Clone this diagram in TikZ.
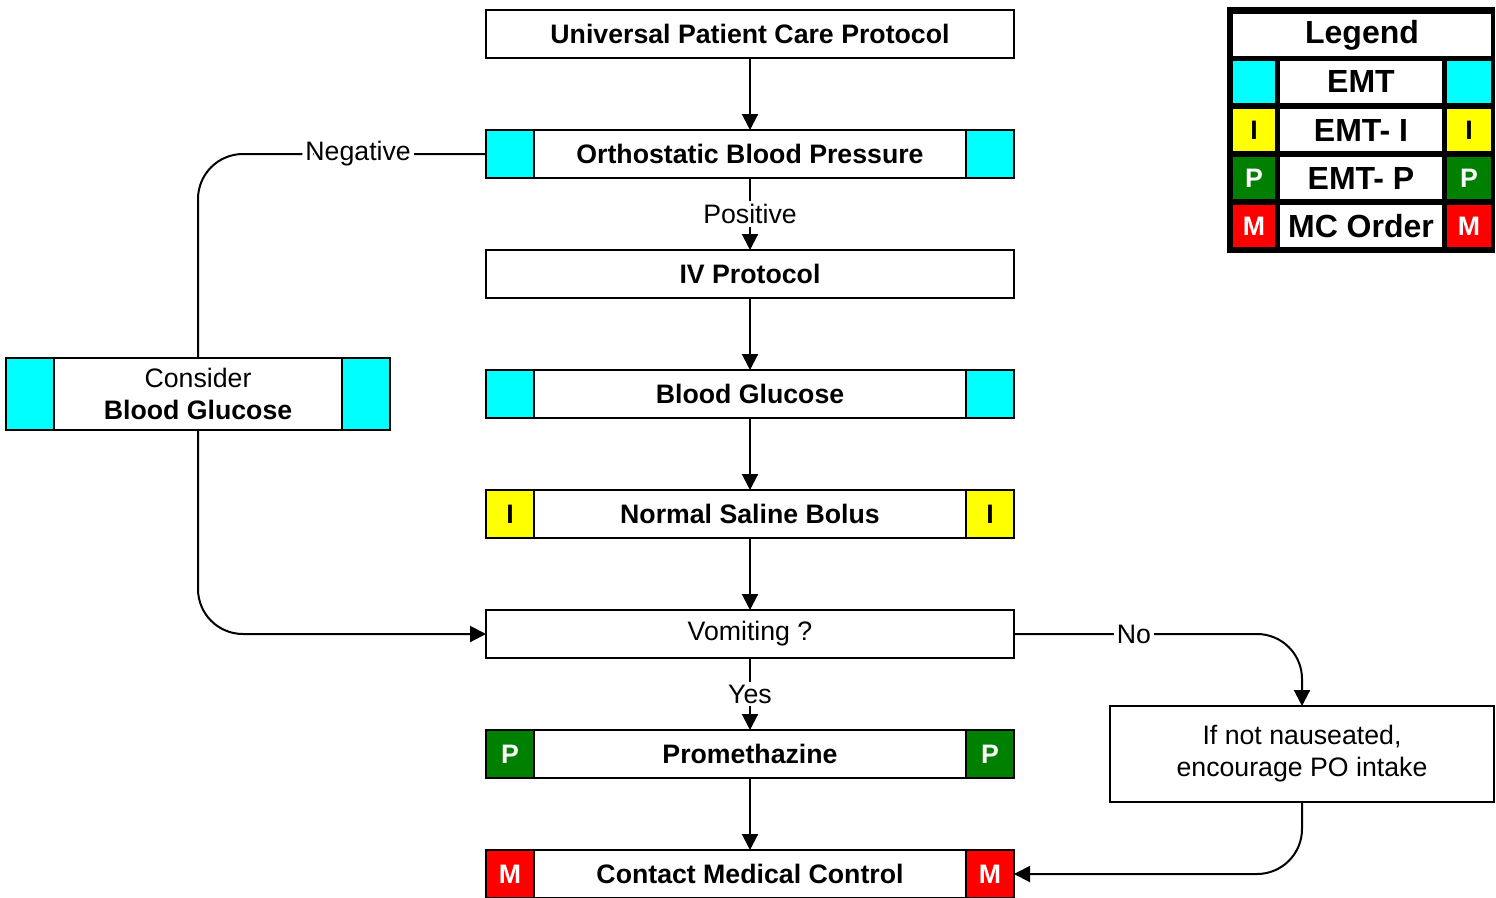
\documentclass[tikz,border=0pt]{standalone}
\usepackage{fontspec}
\setmainfont{Liberation Sans}
\usetikzlibrary{arrows.meta}
\definecolor{cy}{HTML}{00FFFF}
\definecolor{ye}{HTML}{FFFF00}
\definecolor{gr}{HTML}{008000}
\definecolor{rd}{HTML}{FF0000}
\begin{document}
\begin{tikzpicture}[x=1pt,y=-1pt,
  every node/.style={inner sep=0pt, outer sep=0pt},
  box/.style={draw, line width=2pt, fill=white, minimum width=528pt, minimum height=48pt, font=\bfseries\fontsize{26.7}{32}\selectfont},
  sq/.style={draw, line width=2pt, minimum width=48pt, minimum height=48pt, font=\bfseries\fontsize{26.7}{32}\selectfont},
  sqc/.style={sq, fill=cy},
  sqi/.style={sq, fill=ye, text=black},
  sqp/.style={sq, fill=gr, text=white},
  sqm/.style={sq, fill=rd, text=white},
  conn/.style={line width=2pt, -{Triangle[length=16pt,width=16pt]}},
  plain/.style={line width=2pt},
  lab/.style={fill=white, inner sep=3pt, font=\fontsize{26.7}{32}\selectfont},
  lgcell/.style={fill=white, minimum height=42pt, font=\bfseries\fontsize{32}{36}\selectfont},
  lgsq/.style={minimum height=42pt, font=\bfseries\fontsize{26.7}{30}\selectfont}
]
\useasboundingbox (0,0) rectangle (1496,897);

% main column
\node[box] (ucp) at (750,33.5) {Universal Patient Care Protocol};
\node[box] (obp) at (750,154) {Orthostatic Blood Pressure};
\node[sqc, anchor=west] (obpL) at (obp.west) {};
\node[sqc, anchor=east] (obpR) at (obp.east) {};
\node[box] (iv) at (750,274) {IV Protocol};
\node[box] (bg) at (750,394) {Blood Glucose};
\node[sqc, anchor=west] (bgL) at (bg.west) {};
\node[sqc, anchor=east] (bgR) at (bg.east) {};
\node[box] (nsb) at (750,514) {Normal Saline Bolus};
\node[sqi, anchor=west] (nsbL) at (nsb.west) {I};
\node[sqi, anchor=east] (nsbR) at (nsb.east) {I};
\node[box, font=\fontsize{26.7}{32}\selectfont] (vom) at (750,634) {Vomiting ?};
\node[box] (pro) at (750,754) {Promethazine};
\node[sqp, anchor=west] (proL) at (pro.west) {P};
\node[sqp, anchor=east] (proR) at (pro.east) {P};
\node[box] (cmc) at (750,874) {Contact Medical Control};
\node[sqm, anchor=west] (cmcL) at (cmc.west) {M};
\node[sqm, anchor=east] (cmcR) at (cmc.east) {M};

% side boxes
\node[box, minimum width=384pt, minimum height=72pt, align=center] (cbg) at (198,394) {\mdseries Consider\\Blood Glucose};
\node[sqc, anchor=west, minimum height=72pt] (cbgL) at (cbg.west) {};
\node[sqc, anchor=east, minimum height=72pt] (cbgR) at (cbg.east) {};
\node[box, minimum width=384pt, minimum height=96pt, align=center, font=\fontsize{26.7}{32}\selectfont] (ifb) at (1302,754) {If not nauseated,\\encourage PO intake};

% connectors
\draw[conn] (ucp.south) -- (obp.north);
\draw[conn] (obp.south) -- node[lab] {Positive} (iv.north);
\draw[conn] (iv.south) -- (bg.north);
\draw[conn] (bg.south) -- (nsb.north);
\draw[conn] (nsb.south) -- (vom.north);
\draw[conn] (vom.south) -- node[lab] {Yes} (pro.north);
\draw[conn] (pro.south) -- (cmc.north);
\draw[plain, rounded corners=45pt] (obpL.west) -| node[lab, pos=0.222] {Negative} (cbg.north);
\draw[conn, rounded corners=45pt] (cbg.south) |- (vom.west);
\draw[conn, rounded corners=45pt] (vom.east) -| node[lab, pos=0.208] {No} (ifb.north);
\draw[conn, rounded corners=45pt] (ifb.south) |- (cmcR.east);

% legend
\fill[black] (1227,7) rectangle (1495,253);
\node[lgcell, minimum width=258pt] (lgT) at (1362,35) {Legend};
\node[lgsq, fill=cy, minimum width=42pt] (l1a) at (1254,81.5) {};
\node[lgcell, minimum width=162pt] (l1b) at (1361,81.5) {EMT};
\node[lgsq, fill=cy, minimum width=44pt] (l1c) at (1469,81.5) {};
\node[lgsq, fill=ye, minimum width=42pt] (l2a) at (1254,130) {I};
\node[lgcell, minimum width=162pt] (l2b) at (1361,130) {EMT- I};
\node[lgsq, fill=ye, minimum width=44pt] (l2c) at (1469,130) {I};
\node[lgsq, fill=gr, text=white, minimum width=42pt] (l3a) at (1254,178) {P};
\node[lgcell, minimum width=162pt] (l3b) at (1361,178) {EMT- P};
\node[lgsq, fill=gr, text=white, minimum width=44pt] (l3c) at (1469,178) {P};
\node[lgsq, fill=rd, text=white, minimum width=42pt] (l4a) at (1254,226) {M};
\node[lgcell, minimum width=162pt] (l4b) at (1361,226) {MC Order};
\node[lgsq, fill=rd, text=white, minimum width=44pt] (l4c) at (1469,226) {M};
\end{tikzpicture}
\end{document}
